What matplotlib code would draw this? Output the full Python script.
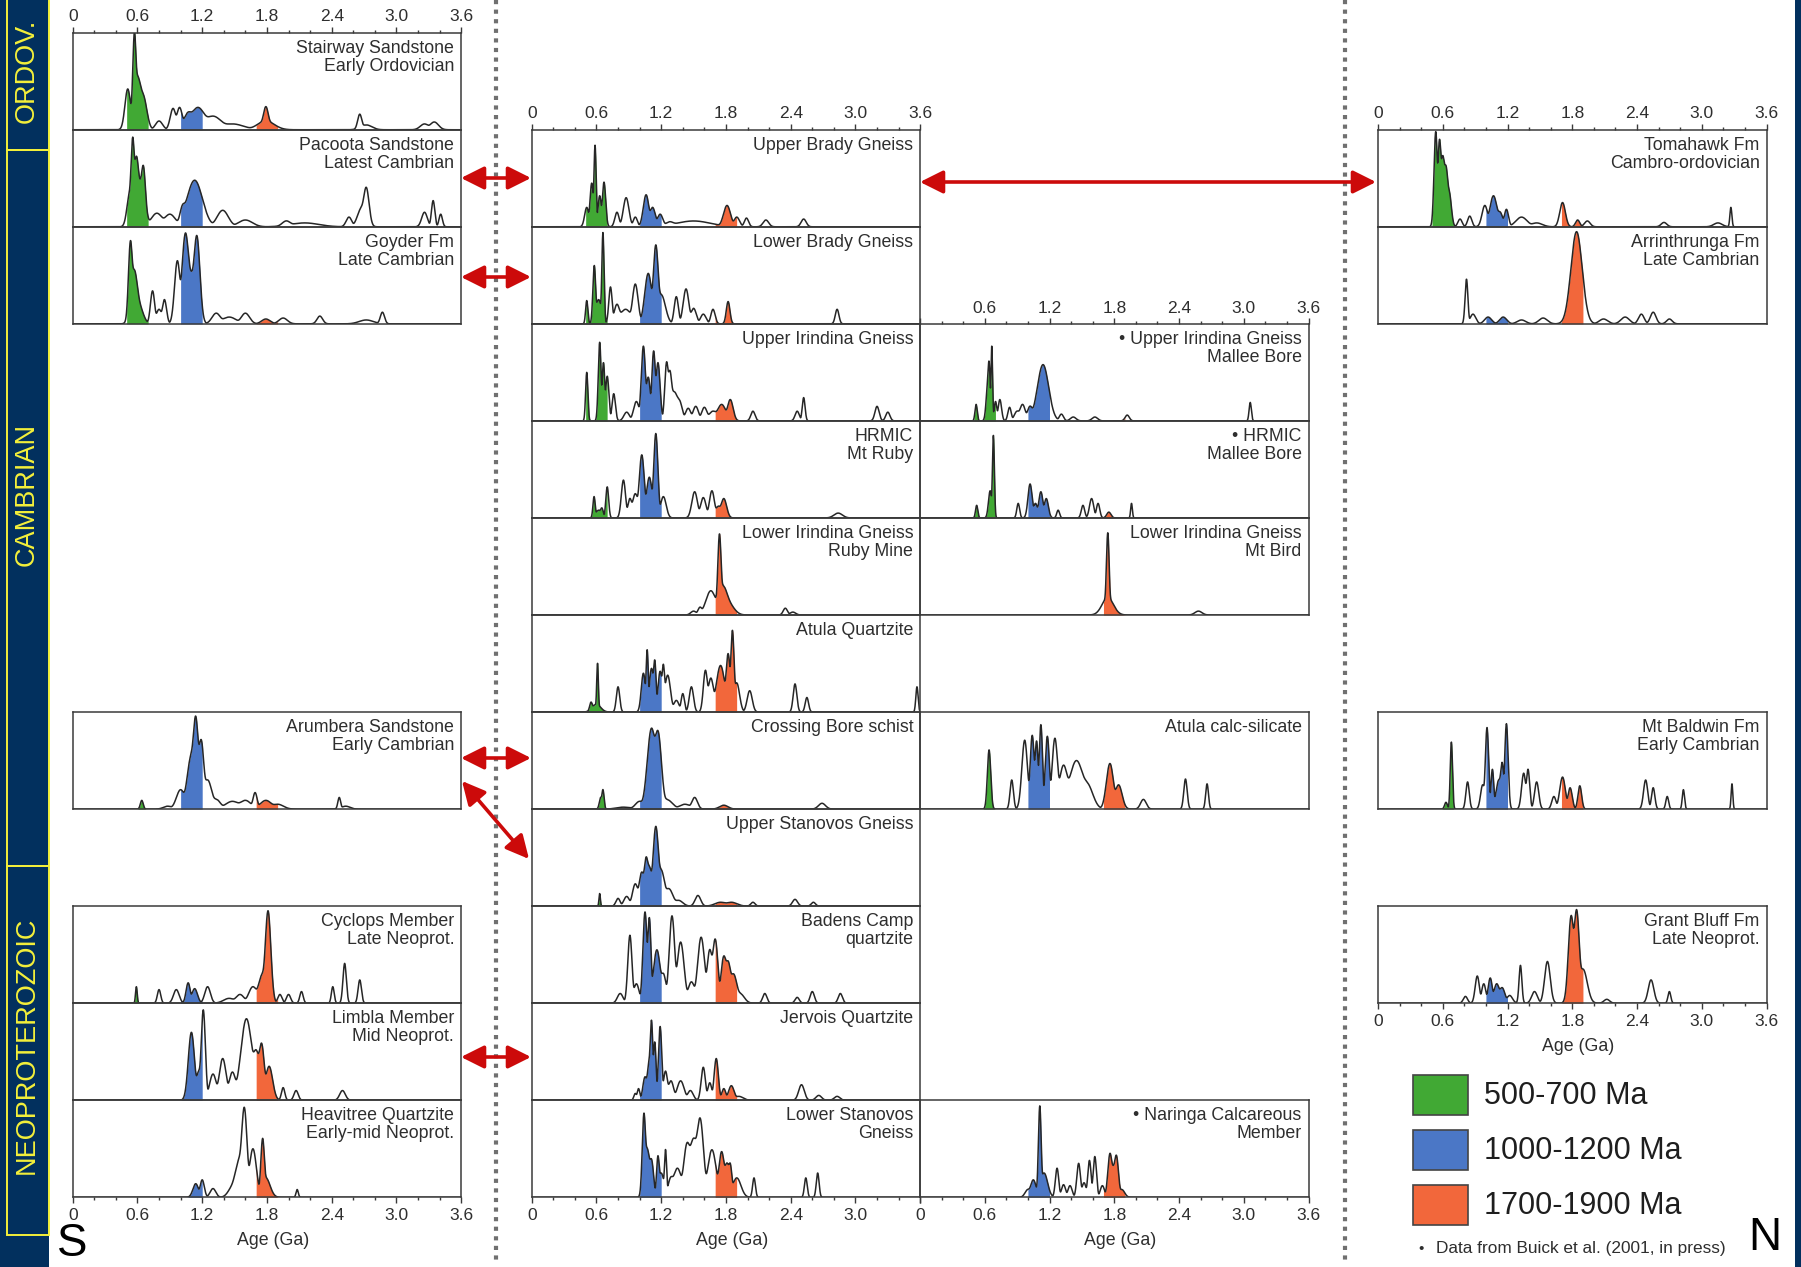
import numpy as np
import matplotlib
matplotlib.use("Agg")
import matplotlib.pyplot as plt
from matplotlib.patches import Rectangle
from matplotlib.ticker import FixedLocator, MultipleLocator

plt.rcParams['font.family'] = ['Liberation Sans', 'DejaVu Sans']

# ---------------- data: detrital zircon age peaks ----------------
# each entry: (age in Ga, relative peak height 0-1, peak half-width in Ga)
STAIRWAY = [(0.51, 0.42, 0.02), (0.572, 0.96, 0.012), (0.60, 0.55, 0.03), (0.655, 0.33, 0.025),
            (0.80, 0.09, 0.025), (0.93, 0.22, 0.02), (0.99, 0.23, 0.02), (1.07, 0.17, 0.03),
            (1.16, 0.23, 0.05), (1.30, 0.14, 0.06), (1.48, 0.06, 0.08), (1.79, 0.23, 0.018),
            (1.79, 0.09, 0.06), (2.66, 0.16, 0.015), (2.72, 0.05, 0.04), (3.26, 0.06, 0.03),
            (3.35, 0.08, 0.03)]
PACOOTA = [(0.53, 0.35, 0.02), (0.556, 0.90, 0.013), (0.59, 0.70, 0.018), (0.655, 0.56, 0.015),
           (0.63, 0.45, 0.03), (0.78, 0.14, 0.04), (0.90, 0.13, 0.04), (1.02, 0.20, 0.02),
           (1.13, 0.48, 0.055), (1.39, 0.17, 0.04), (1.60, 0.07, 0.05), (1.98, 0.06, 0.03),
           (2.15, 0.04, 0.10), (2.56, 0.10, 0.02), (2.72, 0.40, 0.02), (2.68, 0.20, 0.03),
           (3.26, 0.15, 0.02), (3.34, 0.27, 0.012), (3.41, 0.13, 0.012)]
GOYDER = [(0.535, 0.83, 0.014), (0.57, 0.55, 0.025), (0.61, 0.20, 0.03), (0.74, 0.34, 0.015),
          (0.80, 0.15, 0.02), (0.85, 0.25, 0.015), (0.97, 0.65, 0.02), (1.045, 0.93, 0.025),
          (1.15, 0.90, 0.022), (1.10, 0.50, 0.03), (1.33, 0.11, 0.03), (1.45, 0.07, 0.05),
          (1.60, 0.11, 0.03), (1.79, 0.05, 0.03), (1.95, 0.06, 0.03), (2.29, 0.08, 0.02),
          (2.72, 0.04, 0.05), (2.87, 0.12, 0.015)]
ARUMBERA = [(0.64, 0.09, 0.01), (0.88, 0.03, 0.03), (1.00, 0.20, 0.03), (1.10, 0.55, 0.03),
            (1.14, 0.93, 0.02), (1.19, 0.71, 0.02), (1.25, 0.30, 0.03), (1.33, 0.10, 0.03),
            (1.48, 0.08, 0.05), (1.60, 0.09, 0.04), (1.69, 0.17, 0.015), (1.79, 0.09, 0.04),
            (1.90, 0.05, 0.04), (2.47, 0.12, 0.01), (2.53, 0.03, 0.03)]
CYCLOPS = [(0.59, 0.17, 0.006), (0.80, 0.14, 0.012), (0.96, 0.14, 0.02), (1.07, 0.21, 0.015),
           (1.13, 0.15, 0.02), (1.25, 0.17, 0.02), (1.45, 0.05, 0.04), (1.55, 0.09, 0.03),
           (1.67, 0.17, 0.03), (1.81, 0.95, 0.02), (1.76, 0.30, 0.03), (1.92, 0.09, 0.015),
           (2.00, 0.09, 0.015), (2.12, 0.12, 0.012), (2.41, 0.17, 0.01), (2.52, 0.41, 0.012),
           (2.66, 0.24, 0.012)]
LIMBLA = [(1.10, 0.70, 0.022), (1.17, 0.30, 0.02), (1.21, 0.93, 0.015), (1.30, 0.27, 0.025),
          (1.39, 0.43, 0.025), (1.48, 0.29, 0.025), (1.61, 0.84, 0.04), (1.70, 0.50, 0.025),
          (1.75, 0.58, 0.02), (1.82, 0.35, 0.025), (1.95, 0.13, 0.012), (2.07, 0.10, 0.015),
          (2.50, 0.10, 0.02)]
HEAVITREE = [(1.14, 0.14, 0.02), (1.20, 0.18, 0.015), (1.30, 0.09, 0.02), (1.48, 0.10, 0.03),
             (1.59, 0.91, 0.02), (1.55, 0.40, 0.035), (1.67, 0.50, 0.025), (1.76, 0.60, 0.013),
             (1.79, 0.20, 0.03), (2.08, 0.08, 0.008)]
UPPER_BRADY = [(0.51, 0.20, 0.015), (0.556, 0.45, 0.012), (0.587, 0.84, 0.008), (0.63, 0.32, 0.012),
               (0.67, 0.46, 0.012), (0.79, 0.15, 0.015), (0.875, 0.30, 0.02), (0.96, 0.10, 0.015),
               (1.06, 0.33, 0.02), (1.12, 0.20, 0.02), (1.19, 0.13, 0.02), (1.28, 0.05, 0.03),
               (1.50, 0.06, 0.12), (1.81, 0.22, 0.025), (1.90, 0.10, 0.02), (1.99, 0.09, 0.015),
               (2.17, 0.07, 0.02), (2.52, 0.08, 0.018)]
LOWER_BRADY = [(0.51, 0.24, 0.008), (0.58, 0.60, 0.01), (0.62, 0.25, 0.02), (0.66, 0.94, 0.008),
               (0.73, 0.38, 0.012), (0.79, 0.20, 0.02), (0.87, 0.15, 0.04), (0.96, 0.41, 0.02),
               (1.08, 0.52, 0.025), (1.15, 0.81, 0.018), (1.20, 0.30, 0.03), (1.34, 0.28, 0.015),
               (1.43, 0.36, 0.02), (1.50, 0.16, 0.02), (1.59, 0.10, 0.02), (1.68, 0.15, 0.015),
               (1.82, 0.23, 0.013), (2.83, 0.15, 0.013)]
UPPER_IRINDINA = [(0.51, 0.50, 0.008), (0.63, 0.81, 0.01), (0.665, 0.60, 0.01), (0.70, 0.46, 0.012),
                  (0.76, 0.28, 0.012), (0.88, 0.09, 0.02), (0.97, 0.20, 0.02), (1.035, 0.77, 0.015),
                  (1.08, 0.45, 0.015), (1.13, 0.72, 0.013), (1.17, 0.60, 0.015), (1.25, 0.60, 0.013),
                  (1.28, 0.50, 0.015), (1.32, 0.30, 0.03), (1.37, 0.19, 0.02), (1.45, 0.13, 0.02),
                  (1.52, 0.15, 0.02), (1.60, 0.14, 0.02), (1.68, 0.10, 0.03), (1.76, 0.17, 0.03),
                  (1.84, 0.22, 0.02), (2.05, 0.10, 0.015), (2.46, 0.10, 0.015), (2.52, 0.24, 0.01),
                  (3.20, 0.15, 0.015), (3.30, 0.09, 0.015)]
HRMIC_RUBY = [(0.578, 0.22, 0.008), (0.62, 0.08, 0.02), (0.65, 0.10, 0.01), (0.70, 0.32, 0.01),
              (0.85, 0.39, 0.015), (0.91, 0.20, 0.015), (0.96, 0.25, 0.02), (1.02, 0.65, 0.018),
              (1.09, 0.42, 0.02), (1.15, 0.87, 0.015), (1.22, 0.22, 0.02), (1.51, 0.27, 0.02),
              (1.59, 0.21, 0.02), (1.67, 0.28, 0.018), (1.78, 0.20, 0.02), (1.73, 0.12, 0.02),
              (2.84, 0.05, 0.03)]
LOWER_IRINDINA_RUBY = [(1.50, 0.04, 0.02), (1.56, 0.08, 0.015), (1.66, 0.25, 0.035), (1.74, 0.82, 0.012),
                       (1.77, 0.30, 0.035), (1.82, 0.12, 0.04), (2.35, 0.07, 0.015), (2.42, 0.03, 0.02)]
ATULA_QTZ = [(0.55, 0.10, 0.01), (0.61, 0.50, 0.006), (0.60, 0.08, 0.03), (0.80, 0.26, 0.012),
             (1.035, 0.40, 0.015), (1.07, 0.64, 0.008), (1.11, 0.45, 0.015), (1.14, 0.53, 0.01),
             (1.19, 0.42, 0.015), (1.22, 0.48, 0.01), (1.26, 0.38, 0.02), (1.34, 0.12, 0.02),
             (1.40, 0.19, 0.012), (1.48, 0.26, 0.015), (1.61, 0.43, 0.015), (1.66, 0.35, 0.02),
             (1.75, 0.48, 0.03), (1.82, 0.60, 0.015), (1.86, 0.84, 0.012), (1.90, 0.30, 0.02),
             (2.02, 0.22, 0.018), (2.44, 0.29, 0.013), (2.55, 0.15, 0.012), (3.57, 0.26, 0.008)]
CROSSING_BORE = [(0.64, 0.12, 0.01), (0.66, 0.20, 0.008), (0.85, 0.02, 0.05), (1.00, 0.08, 0.03),
                 (1.11, 0.83, 0.03), (1.17, 0.79, 0.025), (1.25, 0.10, 0.04), (1.42, 0.05, 0.04),
                 (1.51, 0.12, 0.02), (1.78, 0.04, 0.03), (2.69, 0.06, 0.025)]
UPPER_STANOVOS = [(0.63, 0.13, 0.005), (0.80, 0.08, 0.015), (0.88, 0.10, 0.02), (0.96, 0.23, 0.02),
                  (1.02, 0.35, 0.02), (1.06, 0.48, 0.015), (1.09, 0.40, 0.02), (1.15, 0.82, 0.02),
                  (1.20, 0.37, 0.025), (1.27, 0.18, 0.03), (1.36, 0.06, 0.03), (1.54, 0.11, 0.02),
                  (1.75, 0.04, 0.04), (1.85, 0.04, 0.04), (2.05, 0.04, 0.015), (2.44, 0.07, 0.018),
                  (2.61, 0.04, 0.015)]
BADENS_CAMP = [(0.82, 0.10, 0.02), (0.91, 0.70, 0.015), (0.97, 0.20, 0.02), (1.05, 0.94, 0.015),
               (1.09, 0.88, 0.012), (1.16, 0.55, 0.025), (1.22, 0.30, 0.02), (1.30, 0.90, 0.02),
               (1.38, 0.63, 0.025), (1.48, 0.22, 0.025), (1.57, 0.68, 0.025), (1.65, 0.55, 0.02),
               (1.70, 0.66, 0.02), (1.78, 0.48, 0.02), (1.82, 0.42, 0.02), (1.87, 0.30, 0.025),
               (1.93, 0.10, 0.03), (2.16, 0.10, 0.015), (2.46, 0.06, 0.015), (2.60, 0.12, 0.015),
               (2.86, 0.10, 0.015)]
JERVOIS = [(0.96, 0.07, 0.01), (0.99, 0.12, 0.01), (1.05, 0.24, 0.015), (1.09, 0.40, 0.015),
           (1.11, 0.81, 0.01), (1.14, 0.60, 0.01), (1.19, 0.76, 0.012), (1.24, 0.30, 0.015),
           (1.29, 0.20, 0.02), (1.38, 0.20, 0.025), (1.47, 0.10, 0.02), (1.59, 0.34, 0.015),
           (1.65, 0.18, 0.015), (1.71, 0.43, 0.015), (1.78, 0.12, 0.015), (1.85, 0.15, 0.02),
           (1.92, 0.04, 0.03), (2.50, 0.16, 0.02), (2.66, 0.05, 0.02), (2.83, 0.04, 0.02)]
LOWER_STANOVOS = [(1.04, 0.85, 0.012), (1.07, 0.50, 0.02), (1.11, 0.38, 0.015), (1.17, 0.42, 0.01),
                  (1.24, 0.49, 0.008), (1.20, 0.25, 0.02), (1.29, 0.20, 0.02), (1.35, 0.30, 0.03),
                  (1.44, 0.55, 0.025), (1.50, 0.60, 0.03), (1.56, 0.81, 0.025), (1.67, 0.49, 0.03),
                  (1.76, 0.47, 0.02), (1.81, 0.35, 0.02), (1.84, 0.32, 0.012), (1.90, 0.20, 0.03),
                  (2.06, 0.20, 0.01), (2.54, 0.20, 0.01), (2.65, 0.25, 0.01)]
UPPER_IRINDINA_MB = [(0.52, 0.17, 0.008), (0.63, 0.40, 0.012), (0.64, 0.56, 0.008), (0.665, 0.77, 0.006),
                     (0.70, 0.20, 0.01), (0.74, 0.22, 0.012), (0.83, 0.14, 0.012), (0.90, 0.10, 0.02),
                     (0.95, 0.17, 0.02), (1.02, 0.15, 0.02), (1.14, 0.58, 0.04), (1.31, 0.07, 0.015),
                     (1.42, 0.04, 0.02), (1.62, 0.04, 0.02), (1.92, 0.06, 0.015), (3.06, 0.19, 0.008)]
HRMIC_MB = [(0.525, 0.13, 0.008), (0.65, 0.28, 0.012), (0.68, 0.85, 0.007), (0.91, 0.15, 0.01),
            (1.02, 0.35, 0.015), (1.07, 0.15, 0.015), (1.12, 0.27, 0.015), (1.17, 0.20, 0.015),
            (1.28, 0.08, 0.01), (1.51, 0.13, 0.012), (1.59, 0.20, 0.015), (1.65, 0.15, 0.012),
            (1.75, 0.06, 0.015), (1.96, 0.15, 0.006)]
LOWER_IRINDINA_BIRD = [(1.74, 0.84, 0.01), (1.74, 0.18, 0.04), (2.58, 0.04, 0.025)]
ATULA_CALC = [(0.64, 0.61, 0.012), (0.85, 0.30, 0.012), (0.97, 0.71, 0.02), (1.04, 0.76, 0.015),
              (1.08, 0.70, 0.012), (1.12, 0.87, 0.012), (1.18, 0.75, 0.015), (1.25, 0.73, 0.02),
              (1.33, 0.45, 0.03), (1.45, 0.50, 0.05), (1.55, 0.25, 0.04), (1.76, 0.47, 0.025),
              (1.84, 0.25, 0.025), (2.07, 0.10, 0.02), (2.46, 0.31, 0.012), (2.66, 0.26, 0.01)]
NARINGA = [(1.00, 0.08, 0.02), (1.05, 0.18, 0.02), (1.11, 0.94, 0.01), (1.15, 0.25, 0.025),
           (1.27, 0.30, 0.012), (1.33, 0.13, 0.015), (1.39, 0.12, 0.015), (1.47, 0.35, 0.013),
           (1.52, 0.15, 0.015), (1.57, 0.38, 0.012), (1.62, 0.42, 0.012), (1.69, 0.12, 0.015),
           (1.76, 0.44, 0.015), (1.82, 0.42, 0.015), (1.79, 0.30, 0.02), (1.87, 0.08, 0.02)]
TOMAHAWK = [(0.535, 0.98, 0.012), (0.57, 0.89, 0.012), (0.60, 0.72, 0.015), (0.63, 0.61, 0.015),
            (0.66, 0.35, 0.015), (0.76, 0.08, 0.015), (0.85, 0.11, 0.015), (0.99, 0.22, 0.02),
            (1.07, 0.32, 0.025), (1.13, 0.15, 0.02), (1.19, 0.18, 0.015), (1.33, 0.10, 0.04),
            (1.47, 0.04, 0.04), (1.71, 0.25, 0.02), (1.85, 0.07, 0.015), (1.94, 0.06, 0.02),
            (2.65, 0.045, 0.02), (3.15, 0.04, 0.03), (3.27, 0.20, 0.007)]
ARRINTHRUNGA = [(0.82, 0.46, 0.01), (0.88, 0.10, 0.02), (1.02, 0.07, 0.025), (1.16, 0.07, 0.025),
                (1.33, 0.04, 0.03), (1.53, 0.06, 0.03), (1.84, 0.95, 0.04), (2.09, 0.05, 0.03),
                (2.29, 0.07, 0.03), (2.44, 0.10, 0.02), (2.55, 0.12, 0.02), (2.70, 0.05, 0.02)]
MT_BALDWIN = [(0.63, 0.07, 0.01), (0.68, 0.69, 0.008), (0.83, 0.28, 0.012), (0.97, 0.25, 0.015),
              (1.01, 0.84, 0.012), (1.06, 0.41, 0.01), (1.12, 0.30, 0.02), (1.15, 0.47, 0.012),
              (1.19, 0.88, 0.012), (1.35, 0.37, 0.015), (1.39, 0.41, 0.012), (1.47, 0.28, 0.015),
              (1.63, 0.13, 0.015), (1.71, 0.33, 0.02), (1.78, 0.22, 0.015), (1.87, 0.24, 0.013),
              (2.48, 0.30, 0.015), (2.55, 0.22, 0.012), (2.68, 0.13, 0.01), (2.83, 0.20, 0.008),
              (3.28, 0.26, 0.006)]
GRANT_BLUFF = [(0.81, 0.07, 0.015), (0.92, 0.28, 0.015), (0.98, 0.20, 0.015), (1.04, 0.26, 0.015),
               (1.10, 0.20, 0.02), (1.15, 0.16, 0.02), (1.22, 0.08, 0.02), (1.32, 0.39, 0.01),
               (1.45, 0.12, 0.02), (1.57, 0.43, 0.02), (1.79, 0.90, 0.02), (1.84, 0.96, 0.02),
               (1.90, 0.35, 0.03), (2.12, 0.04, 0.02), (2.53, 0.24, 0.02), (2.70, 0.12, 0.01)]

TICK_VALUES = [0, 0.6, 1.2, 1.8, 2.4, 3.0, 3.6]
TICK_LABELS = ['0', '0.6', '1.2', '1.8', '2.4', '3.0', '3.6']
BAND_RANGES = [(0.5, 0.7), (1.0, 1.2), (1.7, 1.9)]
BAND_NAMES = ['500-700 Ma', '1000-1200 Ma', '1700-1900 Ma']
PERIODS = ['ORDOV.', 'CAMBRIAN', 'NEOPROTEROZOIC']

# ---------------- style / layout ----------------
BAND_COLORS = ['#41a934', '#4b77c6', '#f2673b']
NAVY = '#02305e'
YELLOW = '#f4f03a'
LINE_C = '#262626'
TXT_C = '#2e2e2e'
W, H = 1801, 1267
COL_X = [72.7, 531.7, 920.0, 1378.0]
PANEL_W = 388.5
ROW0, ROW_H = 32.7, 97.05
WIDTH_SCALE = 1.3   # rendering: smoothing of the drawn probability curves

# panel: (label, peaks, column, row)
PANELS = [
    ("Stairway Sandstone\nEarly Ordovician", STAIRWAY, 0, 0),
    ("Pacoota Sandstone\nLatest Cambrian", PACOOTA, 0, 1),
    ("Goyder Fm\nLate Cambrian", GOYDER, 0, 2),
    ("Arumbera Sandstone\nEarly Cambrian", ARUMBERA, 0, 7),
    ("Cyclops Member\nLate Neoprot.", CYCLOPS, 0, 9),
    ("Limbla Member\nMid Neoprot.", LIMBLA, 0, 10),
    ("Heavitree Quartzite\nEarly-mid Neoprot.", HEAVITREE, 0, 11),
    ("Upper Brady Gneiss", UPPER_BRADY, 1, 1),
    ("Lower Brady Gneiss", LOWER_BRADY, 1, 2),
    ("Upper Irindina Gneiss", UPPER_IRINDINA, 1, 3),
    ("HRMIC\nMt Ruby", HRMIC_RUBY, 1, 4),
    ("Lower Irindina Gneiss\nRuby Mine", LOWER_IRINDINA_RUBY, 1, 5),
    ("Atula Quartzite", ATULA_QTZ, 1, 6),
    ("Crossing Bore schist", CROSSING_BORE, 1, 7),
    ("Upper Stanovos Gneiss", UPPER_STANOVOS, 1, 8),
    ("Badens Camp\nquartzite", BADENS_CAMP, 1, 9),
    ("Jervois Quartzite", JERVOIS, 1, 10),
    ("Lower Stanovos\nGneiss", LOWER_STANOVOS, 1, 11),
    ("\u2022 Upper Irindina Gneiss\nMallee Bore", UPPER_IRINDINA_MB, 2, 3),
    ("\u2022 HRMIC\nMallee Bore", HRMIC_MB, 2, 4),
    ("Lower Irindina Gneiss\nMt Bird", LOWER_IRINDINA_BIRD, 2, 5),
    ("Atula calc-silicate", ATULA_CALC, 2, 7),
    ("\u2022 Naringa Calcareous\nMember", NARINGA, 2, 11),
    ("Tomahawk Fm\nCambro-ordovician", TOMAHAWK, 3, 1),
    ("Arrinthrunga Fm\nLate Cambrian", ARRINTHRUNGA, 3, 2),
    ("Mt Baldwin Fm\nEarly Cambrian", MT_BALDWIN, 3, 7),
    ("Grant Bluff Fm\nLate Neoprot.", GRANT_BLUFF, 3, 9),
]
# axes with tick labels: (column, row) -> (side, labels to hide)
TICKED = {(0, 0): ('top', []), (1, 1): ('top', []), (2, 3): ('top', ['0']), (3, 1): ('top', []),
          (0, 11): ('bottom', []), (1, 11): ('bottom', ['3.6']), (2, 11): ('bottom', []),
          (3, 9): ('bottom', [])}

fig = plt.figure(figsize=(W / 100, H / 100), dpi=100)
fig.patch.set_facecolor('white')

bg = fig.add_axes([0, 0, 1, 1], zorder=0)
bg.set_xlim(0, W)
bg.set_ylim(H, 0)
bg.axis('off')

# sidebar
bg.add_patch(Rectangle((0, 0), 49, H, facecolor=NAVY, edgecolor='none'))
bg.add_patch(Rectangle((1795, 0), 6, H, facecolor=NAVY, edgecolor='none'))
for (y0, y1), yc, name in zip([(-5, 150), (150, 866), (866, 1235)], [71, 494, 1045], PERIODS):
    bg.add_patch(Rectangle((7, y0), 41.5, y1 - y0, facecolor='none', edgecolor=YELLOW, lw=1.4))
    bg.text(27, yc, name, rotation=90, ha='center', va='center', color=YELLOW, fontsize=19.5)

# dotted separators
for xd in (496, 1345):
    bg.plot([xd, xd], [0, 1263], color='#707070', lw=3, linestyle=(0, (1, 1.3)))

xs = np.linspace(0, 3.6, 3601)
P = 2.5


def density(peaks):
    g = np.zeros_like(xs)
    for a, h, w in peaks:
        g += (h * np.exp(-0.5 * ((xs - a) / (w * WIDTH_SCALE)) ** 2)) ** P
    return g ** (1.0 / P)


for label, peaks, col, row in PANELS:
    x0 = COL_X[col]
    y0 = ROW0 + ROW_H * row
    ax = fig.add_axes([x0 / W, 1 - (y0 + ROW_H) / H, PANEL_W / W, ROW_H / H], zorder=2)
    ax.set_facecolor('none')
    ax.set_xlim(0, 3.6)
    ax.set_ylim(0, 1)
    ax.set_yticks([])
    for sp in ax.spines.values():
        sp.set_color('#3a3a3a')
        sp.set_linewidth(1.1)
    y = density(peaks)
    for (lo, hi), c in zip(BAND_RANGES, BAND_COLORS):
        m = (xs >= lo) & (xs <= hi)
        ax.fill_between(xs[m], 0, y[m], color=c, lw=0)
    ax.plot(xs, y, color=LINE_C, lw=1.1)
    ax.text(1 - 7 / PANEL_W, 1 - 7 / ROW_H, label, transform=ax.transAxes, ha='right', va='top',
            fontsize=12.8, color=TXT_C, linespacing=1.08)
    if (col, row) in TICKED:
        side, hide = TICKED[(col, row)]
        ax.xaxis.set_major_locator(FixedLocator(TICK_VALUES))
        ax.xaxis.set_minor_locator(MultipleLocator(0.2))
        ax.set_xticklabels(['' if t in hide else t for t in TICK_LABELS])
        top = side == 'top'
        ax.tick_params(axis='x', which='both', direction='out', color='#3a3a3a', width=1.0,
                       top=top, bottom=not top, labeltop=top, labelbottom=not top,
                       labelsize=12.5, labelcolor=TXT_C)
        ax.tick_params(axis='x', which='major', length=4.5, pad=1.5 if top else 3.5)
        ax.tick_params(axis='x', which='minor', length=2.5)
        if not top:
            bg.text(x0 + PANEL_W / 2 + 6, y0 + ROW_H + 43, 'Age (Ga)', ha='center', va='center',
                    fontsize=12.8, color=TXT_C)
    else:
        ax.set_xticks([])

# arrows linking correlated units
ov = fig.add_axes([0, 0, 1, 1], zorder=5)
ov.set_xlim(0, W)
ov.set_ylim(H, 0)
ov.axis('off')
ARROWS = [((461, 178), (531, 178)), ((461, 277), (531, 277)), ((920, 182), (1376, 182)),
          ((461, 758), (531, 758)), ((462, 781), (529, 859)), ((461, 1057), (531, 1057))]
for a, b in ARROWS:
    ov.annotate('', xy=b, xytext=a,
                arrowprops=dict(arrowstyle='<|-|>,head_length=0.7,head_width=0.35', color='#cc0a0a',
                                lw=2.6, shrinkA=0, shrinkB=0, mutation_scale=20))

# legend
for i, (name, c) in enumerate(zip(BAND_NAMES, BAND_COLORS)):
    yb = 1075 + 55 * i
    bg.add_patch(Rectangle((1413, yb), 55, 40, facecolor=c, edgecolor='#444444', lw=1.2))
    bg.text(1484, yb + 21, name, ha='left', va='center', fontsize=22, color='#1e1e1e')
bg.text(1421, 1249, '\u2022', ha='center', va='center', fontsize=11, color=TXT_C)
bg.text(1436, 1249, 'Data from Buick et al. (2001, in press)', ha='left', va='center',
        fontsize=12.4, color=TXT_C)

bg.text(72, 1244, 'S', ha='center', va='center', fontsize=33, color='black')
bg.text(1765, 1238, 'N', ha='center', va='center', fontsize=33, color='black')

fig.savefig('out.png', dpi=100, facecolor='white')
